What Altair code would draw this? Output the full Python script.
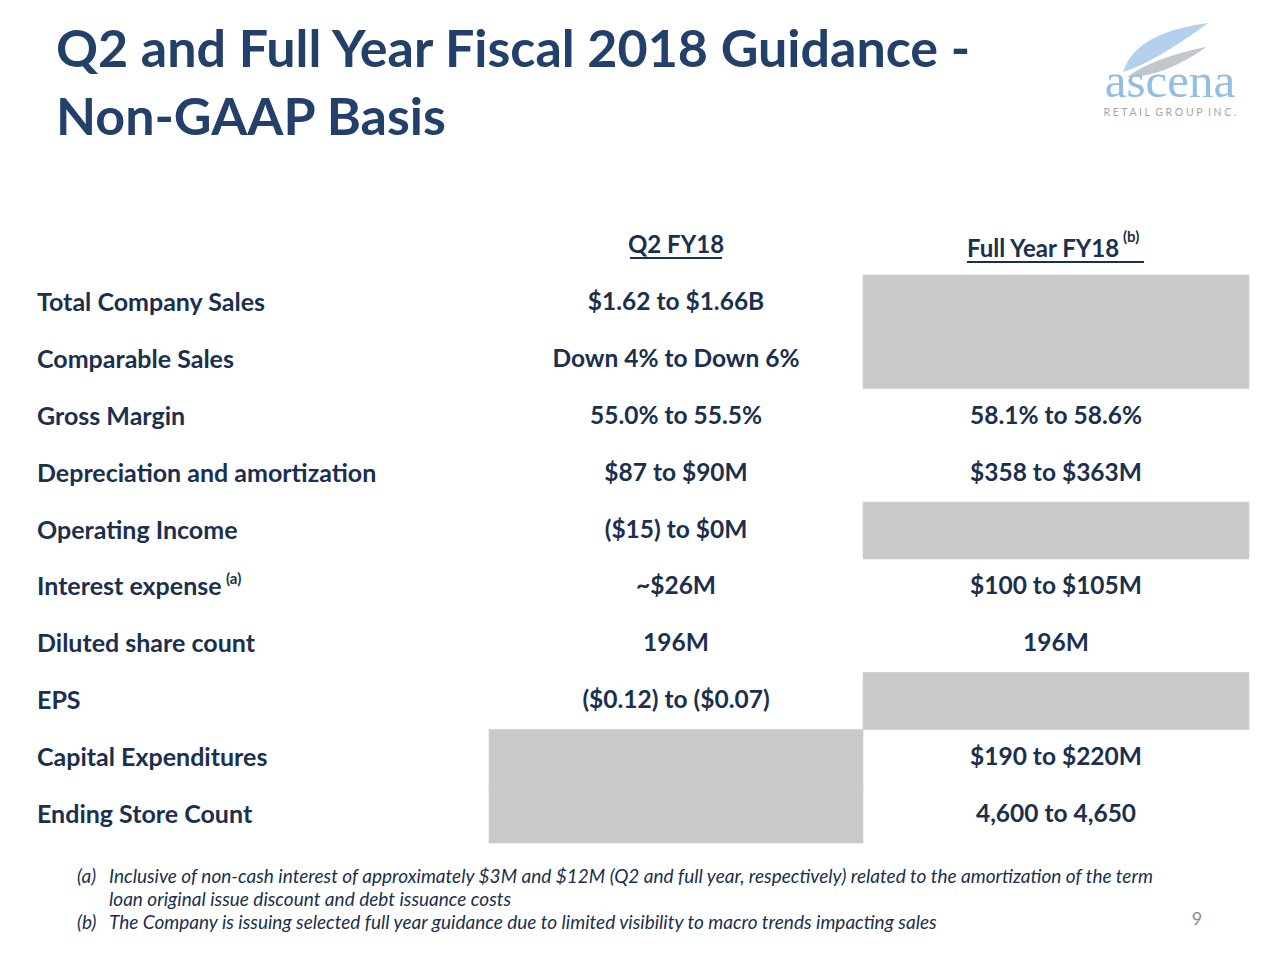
import altair as alt
import pandas as pd

# ---- data ----
row_labels = ["Total Company Sales", "Comparable Sales", "Gross Margin",
              "Depreciation and amortization", "Operating Income", "Interest expense",
              "Diluted share count", "EPS", "Capital Expenditures", "Ending Store Count"]
q2_values = ["$1.62 to $1.66B", "Down 4% to Down 6%", "55.0% to 55.5%", "$87 to $90M",
             "($15) to $0M", "~$26M", "196M", "($0.12) to ($0.07)", "", ""]
fy_values = ["", "", "58.1% to 58.6%", "$358 to $363M", "", "$100 to $105M", "196M",
             "", "$190 to $220M", "4,600 to 4,650"]
title_lines = ["Q2 and Full Year Fiscal 2018 Guidance -", "Non-GAAP Basis"]
col_headers = ["Q2 FY18", "Full Year FY18"]
footnotes = ["(a)", "Inclusive of non-cash interest of approximately $3M and $12M (Q2 and full year, respectively) related to the amortization of the term",
             "loan original issue discount and debt issuance costs",
             "(b)", "The Company is issuing selected full year guidance due to limited visibility to macro trends impacting sales"]

NAVY = "#1B2F4E"
TITLE = "#23406A"
GRAY = "#C9C9C9"
FONT = "Lato"
BODY = 24.5

cells = []
for i, lab in enumerate(row_labels):
    cells.append({"row": i, "col": 1, "text": q2_values[i]})
    cells.append({"row": i, "col": 2, "text": fy_values[i]})
cells = pd.DataFrame(cells)
cells["row2"] = cells["row"] + 1
cells["col2"] = cells["col"] + 1
cells["rowc"] = cells["row"] + 0.5
cells["colc"] = cells["col"] + 0.5
labels = pd.DataFrame({"row": range(len(row_labels)), "label": row_labels})
labels["rowc"] = labels["row"] + 0.5

xs = alt.Scale(domain=[1, 2, 3], range=[481, 855, 1241])
ys = alt.Scale(domain=[0, 10], range=[267, 835])

gray = alt.Chart(cells).transform_filter("datum.text == ''").mark_rect(
    color=GRAY, stroke=GRAY, strokeWidth=0.6).encode(
    x=alt.X("col:Q", scale=xs, axis=None),
    x2="col2:Q",
    y=alt.Y("row:Q", scale=ys, axis=None),
    y2="row2:Q",
)

vals = alt.Chart(cells).transform_filter("datum.text != ''").mark_text(
    font=FONT, fontSize=BODY, fontWeight="bold", color=NAVY, align="center", baseline="middle"
).encode(
    x=alt.X("colc:Q", scale=xs, axis=None),
    y=alt.Y("rowc:Q", scale=ys, axis=None),
    text="text:N",
)

labs = alt.Chart(labels).mark_text(
    font=FONT, fontSize=25, fontWeight="bold", color=NAVY, align="left", baseline="middle"
).encode(
    x=alt.value(29),
    y=alt.Y("rowc:Q", scale=ys, axis=None),
    text="label:N",
)

one = pd.DataFrame({"k": [0]})
base = alt.Chart(one)

def txt(s, x, y, size, color=NAVY, weight="bold", align="left", style="normal", baseline="alphabetic", font=FONT):
    return base.mark_text(text=s, font=font, fontSize=size, fontWeight=weight, color=color,
                          align=align, fontStyle=style, baseline=baseline).encode(
        x=alt.value(x), y=alt.value(y))

def rule(x1, x2, y, color=NAVY, w=2):
    return base.mark_rule(color=color, strokeWidth=w).encode(
        x=alt.value(x1), x2=alt.value(x2), y=alt.value(y))

FN = 19
layers = [gray, vals, labs,
          txt(title_lines[0], 48, 59, 52, color=TITLE),
          txt(title_lines[1], 48, 127, 52, color=TITLE),
          txt(col_headers[0], 668, 245, 24, align="center"),
          rule(622, 714, 250),
          txt(col_headers[1], 959, 249, 24),
          txt("(b)", 1115, 234, 15),
          rule(959, 1136, 254),
          txt("(a)", 218, 576, 15),
          txt(footnotes[0], 69, 875, FN, weight="normal", style="italic"),
          txt(footnotes[1], 101, 875, FN, weight="normal", style="italic"),
          txt(footnotes[2], 101, 898, FN, weight="normal", style="italic"),
          txt(footnotes[3], 69, 921, FN, weight="normal", style="italic"),
          txt(footnotes[4], 101, 921, FN, weight="normal", style="italic"),
          txt("9", 1189, 917, 18, color="#8C8C8C", weight="normal", align="center"),
          ]

# logo
blue_swoosh = "M -0.93 0.49 Q -0.675 -0.385 0.96 -0.6 Q -0.235 0.275 -0.93 0.49 Z"
gray_swoosh = "M -0.84 0.6 Q -0.265 0.175 0.93 -0.07 Q -0.045 0.615 -0.84 0.6 Z"
layers += [
    base.mark_point(shape=gray_swoosh, filled=True, color="#C3C6CB", opacity=1, size=8100, strokeWidth=0).encode(
        x=alt.value(1157), y=alt.value(42)),
    base.mark_point(shape=blue_swoosh, filled=True, color="#B3D1EC", opacity=1, size=8100, strokeWidth=0).encode(
        x=alt.value(1157), y=alt.value(42)),
    txt("ascena", 1162, 89, 49, color="#93BDE3", weight="normal", align="center", font="Liberation Serif"),
    txt("R E T A I L\u2002G R O U P\u2002I N C .", 1162, 108, 10.5, color="#A6A6A6", weight="normal", align="center", font="Lato"),
]

chart = alt.layer(*layers).properties(
    width=1264, height=944,
    autosize=alt.AutoSizeParams(type="fit", contains="padding"),
    padding=0,
    background="white",
).configure_view(stroke=None, strokeWidth=0)

chart.save("out.html", embed_options={"renderer": "svg", "actions": False})
